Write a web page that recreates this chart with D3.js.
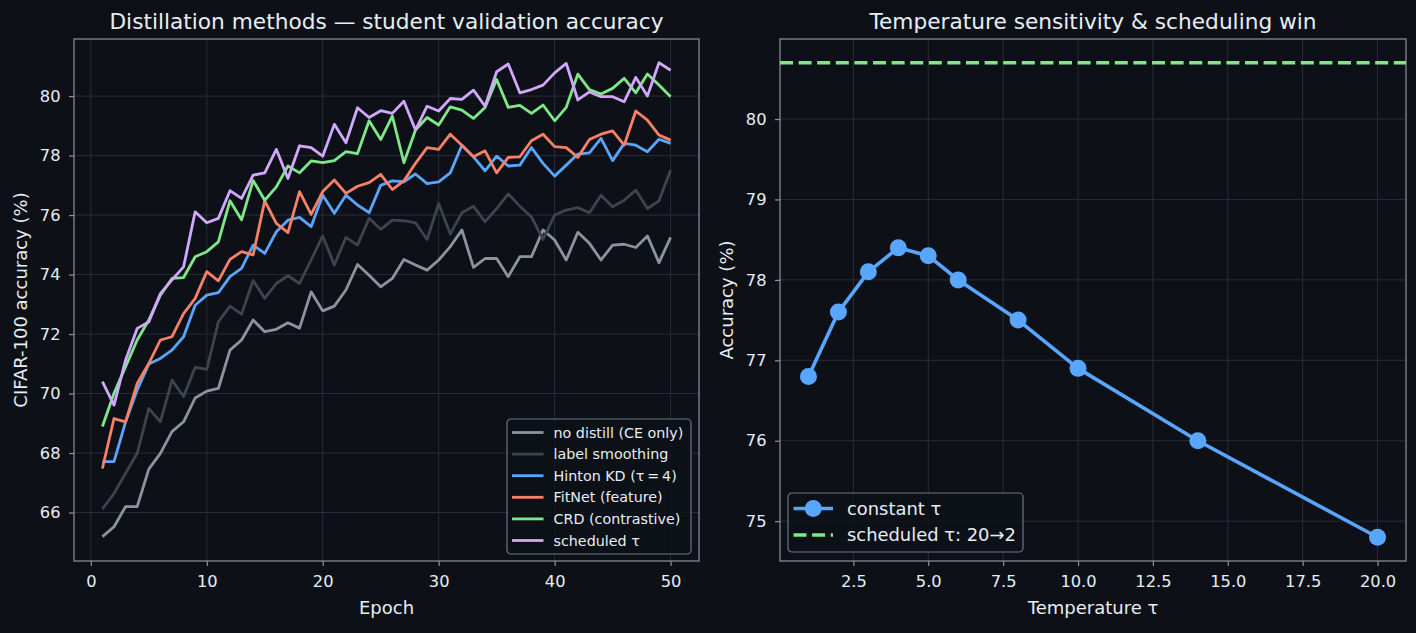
<!DOCTYPE html>
<html><head><meta charset="utf-8">
<script src="https://cdn.jsdelivr.net/npm/d3@7"></script>
<style>
html,body{margin:0;padding:0;background:#0d1117;}
svg{display:block;font-family:"DejaVu Sans",sans-serif;}
</style></head>
<body>
<svg id="chart" width="1416" height="633"></svg>
<script>
// ---------- data ----------
const epochs = d3.range(1, 51);
const noDistill = [65.19,65.52,66.2,66.2,67.46,67.99,68.72,69.05,69.85,70.08,70.17,71.46,71.8,72.47,72.08,72.16,72.38,72.2,73.42,72.78,72.94,73.48,74.34,73.98,73.59,73.87,74.51,74.32,74.15,74.49,74.94,75.5,74.24,74.54,74.54,73.93,74.6,74.6,75.5,75.16,74.49,75.42,75.05,74.49,74.99,75.02,74.91,75.3,74.4,75.25];
const labelSmoothing = [66.12,66.64,67.32,67.99,69.5,69.05,70.45,69.9,70.88,70.81,72.41,72.94,72.67,73.8,73.2,73.7,73.96,73.7,74.49,75.3,74.32,75.25,74.99,75.89,75.52,75.83,75.81,75.74,75.18,76.39,75.36,76.08,76.3,75.77,76.22,76.71,76.3,75.94,75.18,76.0,76.17,76.25,76.08,76.67,76.28,76.5,76.84,76.22,76.48,77.51];
const hintonKD = [67.71,67.71,69.05,70.12,70.99,71.18,71.46,71.91,72.97,73.31,73.39,73.93,74.21,74.99,74.71,75.44,75.83,75.92,75.61,76.67,76.06,76.67,76.34,76.08,77.0,77.15,77.12,77.38,77.06,77.12,77.42,78.35,77.96,77.49,77.98,77.65,77.68,78.27,77.74,77.31,77.68,78.05,78.09,78.58,77.83,78.41,78.35,78.13,78.55,78.41];
const fitNet = [67.48,69.16,69.05,70.34,71.01,71.8,71.91,72.69,73.2,74.1,73.79,74.51,74.77,74.66,76.48,75.72,75.41,76.79,76.02,76.79,77.18,76.73,76.97,77.09,77.37,76.86,77.15,77.74,78.27,78.21,78.72,78.35,77.96,78.16,77.42,77.94,77.96,78.5,78.72,78.3,78.27,77.94,78.54,78.72,78.83,78.35,79.5,79.19,78.69,78.52];
const crd = [68.89,70.01,70.9,71.8,72.47,73.31,73.87,73.9,74.6,74.77,75.1,76.48,75.84,77.16,76.5,76.95,77.65,77.42,77.82,77.76,77.83,78.13,78.07,79.17,78.54,79.33,77.76,78.86,79.28,79.03,79.64,79.53,79.25,79.62,80.56,79.62,79.69,79.42,79.7,79.17,79.62,80.74,80.22,80.07,80.26,80.6,80.11,80.74,80.37,79.98];
const scheduledTau = [70.4,69.61,71.13,72.19,72.41,73.36,73.82,74.26,76.11,75.74,75.89,76.82,76.56,77.34,77.42,78.21,77.23,78.33,78.27,77.98,79.05,78.43,79.61,79.28,79.51,79.42,79.83,78.86,79.66,79.5,79.92,79.89,80.2,79.66,80.82,81.08,80.11,80.22,80.37,80.78,81.1,79.87,80.14,79.98,79.98,79.81,80.63,80.0,81.12,80.87];
const seriesNames = ["no distill (CE only)","label smoothing","Hinton KD (τ\u2009=\u20094)","FitNet (feature)","CRD (contrastive)","scheduled τ"];
const seriesColors = ["#8b949e","#3d444d","#58a6ff","#f78166","#7ee787","#d2a8ff"];
const seriesData = [noDistill,labelSmoothing,hintonKD,fitNet,crd,scheduledTau];

const leftXTicks = [0,10,20,30,40,50];
const leftYTicks = [66,68,70,72,74,76,78,80];

const temps = [1,2,3,4,5,6,8,10,14,20];
const tempAcc = [76.8,77.6,78.1,78.4,78.3,78.0,77.5,76.9,76.0,74.8];
const scheduledAcc = 80.7;
const rightXTicks = [2.5,5.0,7.5,10.0,12.5,15.0,17.5,20.0];
const rightYTicks = [75,76,77,78,79,80];

// ---------- style ----------
const BG = "#0d1117", TXT = "#e6edf3", GRID = "#30363d", SPINE = "#8b949e";
const svg = d3.select("#chart");
svg.append("rect").attr("width",1416).attr("height",633).attr("fill",BG);

function panel(cfg){
  const g = svg.append("g");
  const x = d3.scaleLinear().domain(cfg.xd).range([cfg.l, cfg.r]);
  const y = d3.scaleLinear().domain(cfg.yd).range([cfg.b, cfg.t]);
  // grid
  g.append("g").selectAll("line").data(cfg.xt).join("line")
    .attr("x1",d=>x(d)).attr("x2",d=>x(d)).attr("y1",cfg.t).attr("y2",cfg.b)
    .attr("stroke",GRID).attr("stroke-width",0.9).attr("opacity",0.85);
  g.append("g").selectAll("line").data(cfg.yt).join("line")
    .attr("y1",d=>y(d)).attr("y2",d=>y(d)).attr("x1",cfg.l).attr("x2",cfg.r)
    .attr("stroke",GRID).attr("stroke-width",0.9).attr("opacity",0.85);
  // axes
  const xa = g.append("g").attr("transform",`translate(0,${cfg.b})`)
    .call(d3.axisBottom(x).tickValues(cfg.xt).tickFormat(cfg.xf).tickSize(5).tickPadding(9.5));
  const ya = g.append("g").attr("transform",`translate(${cfg.l},0)`)
    .call(d3.axisLeft(y).tickValues(cfg.yt).tickFormat(d3.format("d")).tickSize(5).tickPadding(8.5));
  [xa,ya].forEach(a=>{
    a.select(".domain").remove();
    a.selectAll(".tick line").attr("stroke",SPINE).attr("stroke-width",1.2);
    a.selectAll(".tick text").attr("fill",TXT).style("font-size","16.3px").style("font-family","DejaVu Sans");
  });
  // frame
  g.append("rect").attr("x",cfg.l).attr("y",cfg.t).attr("width",cfg.r-cfg.l).attr("height",cfg.b-cfg.t)
    .attr("fill","none").attr("stroke",SPINE).attr("stroke-width",1.2);
  // title & labels
  g.append("text").attr("x",(cfg.l+cfg.r)/2).attr("y",cfg.t-10).attr("text-anchor","middle")
    .attr("fill",TXT).style("font-size","21.7px").text(cfg.title);
  g.append("text").attr("x",(cfg.l+cfg.r)/2).attr("y",cfg.b+52.5).attr("text-anchor","middle")
    .attr("fill",TXT).style("font-size","18px").text(cfg.xlabel);
  g.append("text").attr("transform",`translate(${cfg.yl},${(cfg.t+cfg.b)/2}) rotate(-90)`)
    .attr("text-anchor","middle").attr("fill",TXT).style("font-size","18px").text(cfg.ylabel);
  return {g,x,y};
}

// ---------- left ----------
const L = panel({l:74,r:699,t:39,b:561,xd:[-1.45,52.45],yd:[64.37,81.92],
  xt:leftXTicks,yt:leftYTicks,xf:d3.format("d"),
  title:"Distillation methods — student validation accuracy",xlabel:"Epoch",
  ylabel:"CIFAR-100 accuracy (%)",yl:26.5});
svg.append("clipPath").attr("id","clipL").append("rect")
  .attr("x",74).attr("y",39).attr("width",625).attr("height",522);
const lineL = d3.line().x((d,i)=>L.x(epochs[i])).y(d=>L.y(d));
L.g.append("g").attr("clip-path","url(#clipL)").selectAll("path").data(seriesData).join("path")
  .attr("d",lineL).attr("fill","none").attr("stroke",(d,i)=>seriesColors[i])
  .attr("stroke-width",2.8).attr("stroke-linejoin","round");

// left legend
const lg = L.g.append("g").attr("transform","translate(507,419)");
lg.append("rect").attr("width",184).attr("height",135).attr("rx",4)
  .attr("fill",BG).attr("fill-opacity",0.85).attr("stroke","#6e7681").attr("stroke-width",1.2);
seriesNames.forEach((n,i)=>{
  const yy = 13.5 + i*21.6;
  lg.append("line").attr("x1",5).attr("x2",36.5).attr("y1",yy).attr("y2",yy)
    .attr("stroke",seriesColors[i]).attr("stroke-width",2.8);
  lg.append("text").attr("x",46.5).attr("y",yy).attr("dy","0.36em").attr("fill",TXT)
    .style("font-size","14.3px").text(n);
});

// ---------- right ----------
const R = panel({l:780,r:1406,t:39,b:561,xd:[0.05,20.95],yd:[74.505,80.995],
  xt:rightXTicks,yt:rightYTicks,xf:d3.format(".1f"),
  title:"Temperature sensitivity & scheduling win",xlabel:"Temperature τ",
  ylabel:"Accuracy (%)",yl:732.5});
R.g.append("line").attr("x1",780).attr("x2",1406).attr("y1",R.y(scheduledAcc)).attr("y2",R.y(scheduledAcc))
  .attr("stroke","#7ee787").attr("stroke-width",3.3).attr("stroke-dasharray","13,5.6");
const lineR = d3.line().x((d,i)=>R.x(temps[i])).y(d=>R.y(d));
R.g.append("path").datum(tempAcc).attr("d",lineR).attr("fill","none")
  .attr("stroke","#58a6ff").attr("stroke-width",3.6).attr("stroke-linejoin","round");
R.g.append("g").selectAll("circle").data(tempAcc).join("circle")
  .attr("cx",(d,i)=>R.x(temps[i])).attr("cy",d=>R.y(d)).attr("r",8.5).attr("fill","#58a6ff");

// right legend
const rg = R.g.append("g").attr("transform","translate(788,493)");
rg.append("rect").attr("width",235).attr("height",59).attr("rx",4)
  .attr("fill",BG).attr("fill-opacity",0.85).attr("stroke","#6e7681").attr("stroke-width",1.2);
rg.append("line").attr("x1",5.5).attr("x2",45).attr("y1",15.5).attr("y2",15.5)
  .attr("stroke","#58a6ff").attr("stroke-width",3.6);
rg.append("circle").attr("cx",25.3).attr("cy",15.5).attr("r",8.5).attr("fill","#58a6ff");
rg.append("text").attr("x",59).attr("y",15.5).attr("dy","0.36em").attr("fill",TXT)
  .style("font-size","17.9px").text("constant τ");
rg.append("line").attr("x1",5.5).attr("x2",45).attr("y1",42).attr("y2",42)
  .attr("stroke","#7ee787").attr("stroke-width",3.3).attr("stroke-dasharray","13,5.6");
rg.append("text").attr("x",59).attr("y",42).attr("dy","0.36em").attr("fill",TXT)
  .style("font-size","17.9px").text("scheduled τ: 20→2");
</script>
</body></html>
